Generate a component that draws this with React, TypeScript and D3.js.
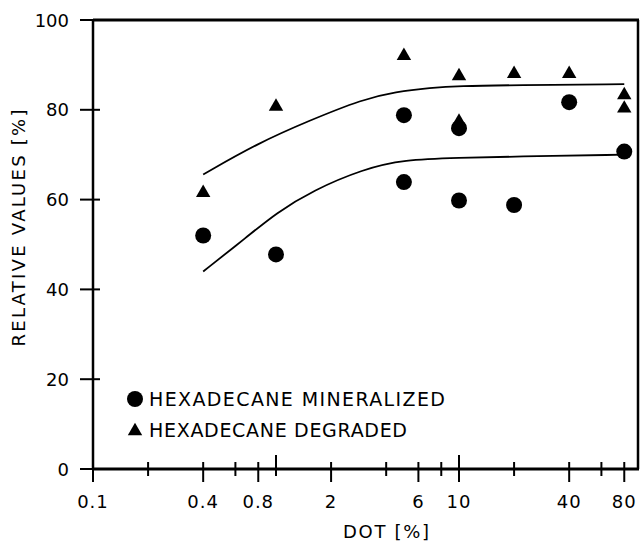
import React, { useEffect, useRef } from 'react';
import * as d3 from 'd3';

// DOT [%] positions and relative values
const mineralizedDot = [0.4, 1, 5, 5, 10, 10, 20, 40, 80];
const mineralizedVal = [52, 47.8, 78.8, 63.9, 75.9, 59.8, 58.8, 81.7, 70.7];
const degradedDot = [0.4, 1, 5, 10, 10, 20, 40, 80, 80];
const degradedVal = [61.5, 80.7, 92, 87.5, 77.4, 88, 88, 83.3, 80.3];

// fitted curves
const upperDot = [0.4, 0.8, 1.5, 3, 4.5, 7, 10, 20, 80];
const upperVal = [65.6, 72.6, 77.5, 82.4, 84, 84.9, 85.3, 85.5, 85.7];
const lowerDot = [0.4, 0.7, 1, 1.6, 3, 5, 10, 20, 80];
const lowerVal = [44, 51.8, 57, 62.1, 66.8, 68.9, 69.3, 69.6, 70];

const xMajorTicks = [0.1, 1, 10];
const xMinorTicks = [0.2, 0.4, 0.6, 0.8, 2, 4, 6, 8, 20, 40, 60, 80];
const xTickLabels = [0.1, 0.4, 0.8, 2, 6, 10, 40, 80];
const yTicks = [0, 20, 40, 60, 80, 100];

const legendLabels = ['HEXADECANE MINERALIZED', 'HEXADECANE DEGRADED'];

const FONT = '"DejaVu Sans", sans-serif';

const App = () => {
  const svgRef = useRef<SVGSVGElement>(null);

  useEffect(() => {
    const svg = d3.select(svgRef.current);
    svg.selectAll('*').remove();

    const width = 640;
    const height = 541;
    const left = 93, right = 638, top = 20, bottom = 469;

    svg.attr('width', width).attr('height', height)
      .style('position', 'absolute').style('left', 0).style('top', 0)
      .style('background', '#fff');

    const x = d3.scaleLog().domain([0.1, 100]).range([left, 642]);
    const y = d3.scaleLinear().domain([0, 100]).range([bottom, top]);

    const g = svg.append('g');

    // frame: left, bottom, top, right
    g.append('line').attr('x1', left).attr('x2', left).attr('y1', top - 1).attr('y2', bottom + 1)
      .attr('stroke', '#000').attr('stroke-width', 2.5);
    g.append('line').attr('x1', left - 1).attr('x2', right + 1).attr('y1', bottom).attr('y2', bottom)
      .attr('stroke', '#000').attr('stroke-width', 3);
    g.append('line').attr('x1', left).attr('x2', right + 1).attr('y1', top).attr('y2', top)
      .attr('stroke', '#000').attr('stroke-width', 3);
    g.append('line').attr('x1', right).attr('x2', right).attr('y1', top).attr('y2', bottom)
      .attr('stroke', '#000').attr('stroke-width', 2.5);

    // x ticks: majors reach higher, labelled ticks reach lower
    const allTicks = xMajorTicks.concat(xMinorTicks);
    g.selectAll('.xtick').data(allTicks).enter().append('line')
      .attr('x1', d => x(d)).attr('x2', d => x(d))
      .attr('y1', d => d === 0.1 ? bottom : bottom - (xMajorTicks.includes(d) ? 14 : 7))
      .attr('y2', d => bottom + (xTickLabels.includes(d) ? 13 : 7))
      .attr('stroke', '#000').attr('stroke-width', 2);
    g.selectAll('.xlab').data(xTickLabels).enter().append('text')
      .attr('x', d => x(d)).attr('y', 508)
      .attr('text-anchor', 'middle')
      .style('font-family', FONT).style('font-size', '18px').style('letter-spacing', '1px')
      .text(d => String(d));

    // y ticks
    g.selectAll('.ytick').data(yTicks).enter().append('line')
      .attr('x1', left - 13).attr('x2', d => (d === 0 || d === 100) ? left : left + 7)
      .attr('y1', d => y(d)).attr('y2', d => y(d))
      .attr('stroke', '#000').attr('stroke-width', 2);
    g.selectAll('.ylab').data(yTicks).enter().append('text')
      .attr('x', 69).attr('y', d => y(d) + 6.5)
      .attr('text-anchor', 'end')
      .style('font-family', FONT).style('font-size', '18px')
      .text(d => String(d));

    // axis titles
    g.append('text')
      .attr('transform', 'translate(25,228) rotate(-90)')
      .attr('text-anchor', 'middle')
      .attr('textLength', 237).attr('lengthAdjust', 'spacing')
      .style('font-family', FONT).style('font-size', '18px')
      .text('RELATIVE VALUES [%]');
    g.append('text')
      .attr('x', 386).attr('y', 538)
      .attr('text-anchor', 'middle')
      .attr('textLength', 86).attr('lengthAdjust', 'spacing')
      .style('font-family', FONT).style('font-size', '18px')
      .text('DOT [%]');

    // curves
    const line = d3.line<[number, number]>()
      .x(d => x(d[0])).y(d => y(d[1]))
      .curve(d3.curveBasis);
    [d3.zip(upperDot, upperVal), d3.zip(lowerDot, lowerVal)].forEach(pts => {
      g.append('path')
        .attr('d', line(pts as [number, number][]))
        .attr('fill', 'none').attr('stroke', '#000').attr('stroke-width', 1.8);
    });

    // points
    g.selectAll('.min').data(d3.zip(mineralizedDot, mineralizedVal)).enter().append('circle')
      .attr('cx', d => x(d[0])).attr('cy', d => y(d[1])).attr('r', 8)
      .attr('fill', '#000');
    const tri = d3.symbol().type(d3.symbolTriangle).size(90);
    g.selectAll('.deg').data(d3.zip(degradedDot, degradedVal)).enter().append('path')
      .attr('d', tri)
      .attr('transform', d => `translate(${x(d[0])},${y(d[1])})`)
      .attr('fill', '#000');

    // legend
    g.append('circle').attr('cx', 135).attr('cy', 399).attr('r', 8).attr('fill', '#000');
    g.append('path').attr('d', tri).attr('transform', 'translate(135,431)').attr('fill', '#000');
    g.selectAll('.leg').data(legendLabels).enter().append('text')
      .attr('x', 149).attr('y', (d, i) => 406 + i * 31)
      .attr('textLength', (d, i) => i === 0 ? 296 : 258).attr('lengthAdjust', 'spacing')
      .style('font-family', FONT).style('font-size', '19px')
      .text(d => d);
  }, []);

  return <svg ref={svgRef} />;
};

export default App;
